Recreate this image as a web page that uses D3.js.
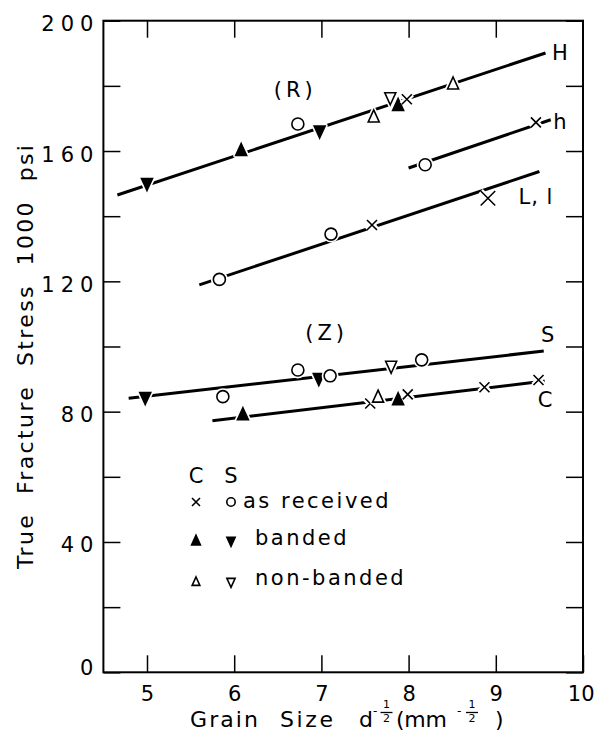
<!DOCTYPE html>
<html><head><meta charset="utf-8">
<script src="https://cdn.jsdelivr.net/npm/d3@7"></script>
<style>
html,body{margin:0;padding:0;background:#fff;}
text{font-family:"DejaVu Sans",sans-serif;fill:#000;white-space:pre;}
</style></head>
<body>
<svg id="chart" width="595" height="732"></svg>
<script>
// ---------- data ----------
const xTicks = [5,6,7,8,9,10];
const yTicks = [0,20,40,60,80,100,120,140,160,180,200];
const yLabels = [0,40,80,120,160,200];

const lineNames = ["H","h","L, l","S","C"];
const lineStart = [[4.66,146.5],[8.0,154.8],[5.6,118.9],[4.79,84.1],[5.75,77.2]];
const lineEnd   = [[9.57,190.1],[9.63,169.6],[9.5,153.7],[9.55,98.6],[9.56,89.4]];
const lineLabelPos = [[9.74,190.1],[9.74,168.8],[9.46,146.0],[9.6,103.5],[9.57,83.6]];

// aC = as received C (x), aS = as received S (o), bC = banded C, bS = banded S, nC/nS = non-banded
const ptsH = [[5.0,150.1,"bS"],[6.08,160.1,"bC"],[6.73,168.3,"aS"],[6.98,166.2,"bS"],[7.60,170.4,"nC"],[7.79,176.4,"nS"],[7.88,173.9,"bC"],[7.98,175.9,"aC"],[8.51,180.5,"nC"]];
const ptsh = [[8.19,155.8,"aS"],[9.46,168.8,"aC"]];
const ptsL = [[5.83,120.6,"aS"],[7.11,134.5,"aS"],[7.58,137.3,"aC"],[8.91,145.5,"aC"]];
const ptsS = [[4.98,84.4,"bS"],[5.87,84.6,"aS"],[6.73,92.8,"aS"],[6.97,90.2,"bS"],[7.10,91.0,"aS"],[7.80,94.0,"nS"],[8.15,95.9,"aS"]];
const ptsC = [[6.10,79.0,"bC"],[7.56,82.5,"aC"],[7.65,84.4,"nC"],[7.88,83.6,"bC"],[7.99,85.3,"aC"],[8.87,87.5,"aC"],[9.49,89.7,"aC"]];

const groupLabels = ["(R)","(Z)"];
const groupLabelPos = [[6.70,178.8],[7.06,104.1]];

const legendHeader = ["C","S"];
const legendRows = [["aC","aS","as received"],["bC","bS","banded"],["nC","nS","non-banded"]];

// ---------- layout ----------
const svg = d3.select("#chart");
const X0 = 103.4, X1 = 583, Y0 = 672.3, Y1 = 20.7;
const x = d3.scaleLinear().domain([4.5,10]).range([X0,X1]);
const y = d3.scaleLinear().domain([0,200]).range([Y0,Y1]);

// frame
svg.append("rect").attr("x",X0).attr("y",Y1).attr("width",X1-X0).attr("height",Y0-Y1)
  .attr("fill","none").attr("stroke","#000").attr("stroke-width",2);

const TS = 17;
const fs = 21;
function styleAxis(g){
  g.select(".domain").remove();
  g.selectAll(".tick line").attr("stroke","#000").attr("stroke-width",1.5);
}
// left axis
svg.append("g").attr("transform",`translate(${X0},0)`)
  .call(d3.axisLeft(y).tickValues(yTicks).tickSize(-TS).tickPadding(4)
    .tickFormat(d=>yLabels.includes(d)?String(d):""))
  .call(styleAxis)
  .call(g=>g.selectAll("text").attr("font-size",fs).attr("font-family","DejaVu Sans")
     .attr("letter-spacing",6).attr("dy",null).attr("y",d=>d===0?2:10));
// right axis
svg.append("g").attr("transform",`translate(${X1},0)`)
  .call(d3.axisRight(y).tickValues(yTicks).tickSize(-TS).tickFormat(""))
  .call(styleAxis);
// bottom axis
svg.append("g").attr("transform",`translate(0,${Y0})`)
  .call(d3.axisBottom(x).tickValues(xTicks).tickSize(-TS).tickPadding(14).tickFormat(d3.format("d")))
  .call(styleAxis)
  .call(g=>g.selectAll("text").attr("font-size",fs).attr("font-family","DejaVu Sans")
     .attr("letter-spacing",d=>d===10?0:2)
     .attr("text-anchor",d=>d===10?"end":"middle")
     .attr("x",d=>d===10?11:1));
// top axis
svg.append("g").attr("transform",`translate(0,${Y1})`)
  .call(d3.axisTop(x).tickValues(xTicks.filter(d=>d<10)).tickSize(-TS).tickFormat(""))
  .call(styleAxis);

// ---------- fitted lines ----------
const plot = svg.append("g");
plot.selectAll("line.fit").data(lineNames).join("line").attr("class","fit")
  .attr("x1",(d,i)=>x(lineStart[i][0])).attr("y1",(d,i)=>y(lineStart[i][1]))
  .attr("x2",(d,i)=>x(lineEnd[i][0])).attr("y2",(d,i)=>y(lineEnd[i][1]))
  .attr("stroke","#000").attr("stroke-width",3);

// ---------- markers ----------
function tri(w,h,up){
  return up ? `M0,${-h*0.6}L${w/2},${h*0.4}L${-w/2},${h*0.4}Z`
            : `M0,${h*0.6}L${w/2},${-h*0.4}L${-w/2},${-h*0.4}Z`;
}
function markerPath(t,s){
  switch(t){
    case "bC": case "nC": return tri(11*s,12*s,true);
    case "bS": case "nS": return tri(11*s,12*s,false);
    case "aC": { const r=5*s; return `M${-r},${-r}L${r},${r}M${r},${-r}L${-r},${r}`; }
    case "aS": { const r=6*s; const p=d3.path(); p.moveTo(r,0); p.arc(0,0,r,0,2*Math.PI); return p.toString(); }
  }
}
function drawMarker(g,t,cx,cy,s,halo){
  const filled = (t==="bC"||t==="bS");
  const isX = t==="aC";
  if(halo){
    g.append("path").attr("d",markerPath(t,s)).attr("transform",`translate(${cx},${cy})`)
     .attr("fill","#fff").attr("stroke","#fff").attr("stroke-width",isX?6:5).attr("stroke-linejoin","round");
  }
  g.append("path").attr("d",markerPath(t,s)).attr("transform",`translate(${cx},${cy})`)
    .attr("fill",isX?"none":(filled?"#000":"#fff")).attr("stroke","#000")
    .attr("stroke-width",1.6).attr("stroke-linejoin","miter");
}
const allPts = [ptsH,ptsh,ptsL,ptsS,ptsC];
const mg = svg.append("g");
allPts.forEach((arr,li)=>{
  arr.forEach(p=>{
    const big = (li===2 && p[2]==="aC" && p[0]>8.5) ? 1.45 : 1;
    drawMarker(mg,p[2],x(p[0]),y(p[1]),big,true);
  });
});

// ---------- labels ----------
svg.append("g").selectAll("text").data(lineNames).join("text")
  .attr("x",(d,i)=>x(lineLabelPos[i][0])).attr("y",(d,i)=>y(lineLabelPos[i][1]))
  .attr("text-anchor","middle").attr("dominant-baseline","central")
  .attr("font-size",fs).attr("letter-spacing",1).text(d=>d);
svg.append("g").selectAll("text").data(groupLabels).join("text")
  .attr("x",(d,i)=>x(groupLabelPos[i][0])).attr("y",(d,i)=>y(groupLabelPos[i][1]))
  .attr("text-anchor","middle").attr("dominant-baseline","central")
  .attr("font-size",fs).attr("letter-spacing",4).text(d=>d);

// ---------- legend ----------
const lg = svg.append("g");
const legColX = [196,231];
lg.selectAll("text.hdr").data(legendHeader).join("text").attr("class","hdr")
  .attr("x",(d,i)=>legColX[i]).attr("y",476).attr("text-anchor","middle").attr("dominant-baseline","central")
  .attr("font-size",fs).text(d=>d);
const rowY = [502,541,582];
const rowTextX = [243,255,255];
const rowTextY = [501,538,578];
legendRows.forEach((r,i)=>{
  drawMarker(lg,r[0],legColX[0],rowY[i],r[0]==="aC"?0.8:(r[0]==="nC"?0.7:0.8),false);
  drawMarker(lg,r[1],legColX[1],rowY[i],r[1]==="aS"?0.7:0.75,false);
  lg.append("text").attr("x",rowTextX[i]).attr("y",rowTextY[i]).attr("dominant-baseline","central")
    .attr("font-size",fs).attr("letter-spacing",2.5).text(r[2]);
});

// ---------- axis titles ----------
svg.append("text").attr("transform","translate(33,569) rotate(-90)")
  .attr("text-anchor","start").attr("font-size",22)
  .attr("textLength",424).attr("lengthAdjust","spacing")
  .text("True  Fracture  Stress  1000  psi");

// x title with fractional exponents
const xt = svg.append("g");
const BASE = 727;
function word(t,x0,len,size){
  const el = xt.append("text").attr("x",x0).attr("y",BASE).attr("font-size",size||22).text(t);
  if(len) el.attr("textLength",len).attr("lengthAdjust","spacing");
}
function minus(x0){
  xt.append("text").attr("x",x0).attr("y",BASE-12.5).attr("font-size",12).text("-");
}
function frac(cx){
  xt.append("text").attr("x",cx).attr("y",BASE-19).attr("font-size",11).attr("text-anchor","middle").text("1");
  xt.append("line").attr("x1",cx-6).attr("x2",cx+6).attr("y1",BASE-14.5).attr("y2",BASE-14.5).attr("stroke","#000").attr("stroke-width",1.3);
  xt.append("text").attr("x",cx).attr("y",BASE-5).attr("font-size",11).attr("text-anchor","middle").text("2");
}
word("Grain",190,68);
word("Size",280,53);
word("d",359);
minus(373);
frac(386.5);
word("(mm",396,51);
minus(457);
frac(472);
word(")",495);
</script>
</body></html>
